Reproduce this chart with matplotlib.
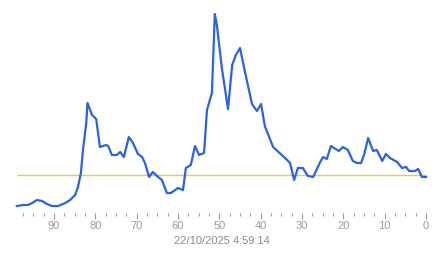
import matplotlib
matplotlib.use('Agg')
import matplotlib.pyplot as plt
import numpy as np
from matplotlib.ticker import FixedLocator

# minutes ago (x) and reading (y)
minutes = [99.0, 97.5, 96.3, 95.3, 94.1, 92.9, 91.7, 90.5, 89.0, 87.3, 86.1, 84.9,
           84.2, 83.5, 83.0, 82.2, 81.9, 80.8, 79.8, 78.9, 77.4, 76.9, 76.0, 74.8,
           74.0, 73.1, 71.9, 70.9, 69.7, 68.7, 68.0, 67.0, 66.1, 65.1, 63.9, 62.7,
           61.7, 60.0, 58.8, 58.1, 56.9, 55.9, 54.9, 53.7, 53.0, 51.8, 51.1, 50.6,
           49.4, 47.9, 46.9, 46.0, 45.0, 43.8, 42.1, 40.9, 39.9, 39.0, 37.0, 33.6,
           32.9, 31.9, 31.0, 29.8, 28.6, 27.3, 25.6, 24.9, 24.0, 23.0, 21.1, 20.1,
           18.9, 17.7, 16.7, 15.7, 15.0, 14.0, 12.8, 11.9, 10.6, 9.7, 8.7, 7.0,
           5.8, 4.8, 4.1, 2.7, 1.9, 1.0, 0.0]
values = [0, 1, 1, 3, 6, 5, 2, 0, 0, 3, 6, 11,
          19, 33, 56, 83, 103, 91, 87, 59, 61, 60, 51, 51,
          54, 49, 69, 63, 52, 49, 43, 29, 34, 30, 26, 13,
          13, 18, 16, 38, 41, 60, 51, 53, 96, 113, 192, 181,
          138, 97, 141, 151, 158, 134, 102, 95, 102, 80, 59, 46,
          43, 26, 38, 38, 30, 29, 44, 49, 47, 60, 55, 59,
          56, 45, 43, 43, 51, 68, 55, 56, 45, 52, 48, 44,
          38, 39, 35, 35, 37, 29, 29]
threshold = 31
major_ticks = [90, 80, 70, 60, 50, 40, 30, 20, 10, 0]
minor_ticks = [m for m in np.arange(2.5, 98, 2.5) if m % 10 != 0]
timestamp = "22/10/2025 4:59:14"

plt.rcParams['font.family'] = ['Liberation Sans', 'DejaVu Sans']

fig = plt.figure(figsize=(4.43, 2.58), dpi=100)
ax = fig.add_axes([0, 45 / 258, 1, 213 / 258])

ax.hlines(threshold, max(minutes), min(minutes), color="#efc648", lw=1.0, zorder=1)
ax.plot(minutes, values, color="#2b63dc", lw=1.6, zorder=2,
        solid_joinstyle="round")

ax.set_xlim(103.07, -4.11)
ax.set_ylim(-7, 206)
for s in ax.spines.values():
    s.set_visible(False)
ax.set_yticks([])
ax.xaxis.set_major_locator(FixedLocator(major_ticks))
ax.xaxis.set_minor_locator(FixedLocator(minor_ticks))
ax.tick_params(axis="x", which="major", length=4, width=0.8, color="#9a9a9a",
               labelcolor="#9a9a9a", labelsize=8, pad=1.5)
ax.tick_params(axis="x", which="minor", length=2, width=0.8, color="#9a9a9a")

fig.text(0.5, 1 - 241 / 258, timestamp, ha="center", va="center",
         color="#8a8a8a", fontsize=8)

fig.savefig("out.png", dpi=100)
